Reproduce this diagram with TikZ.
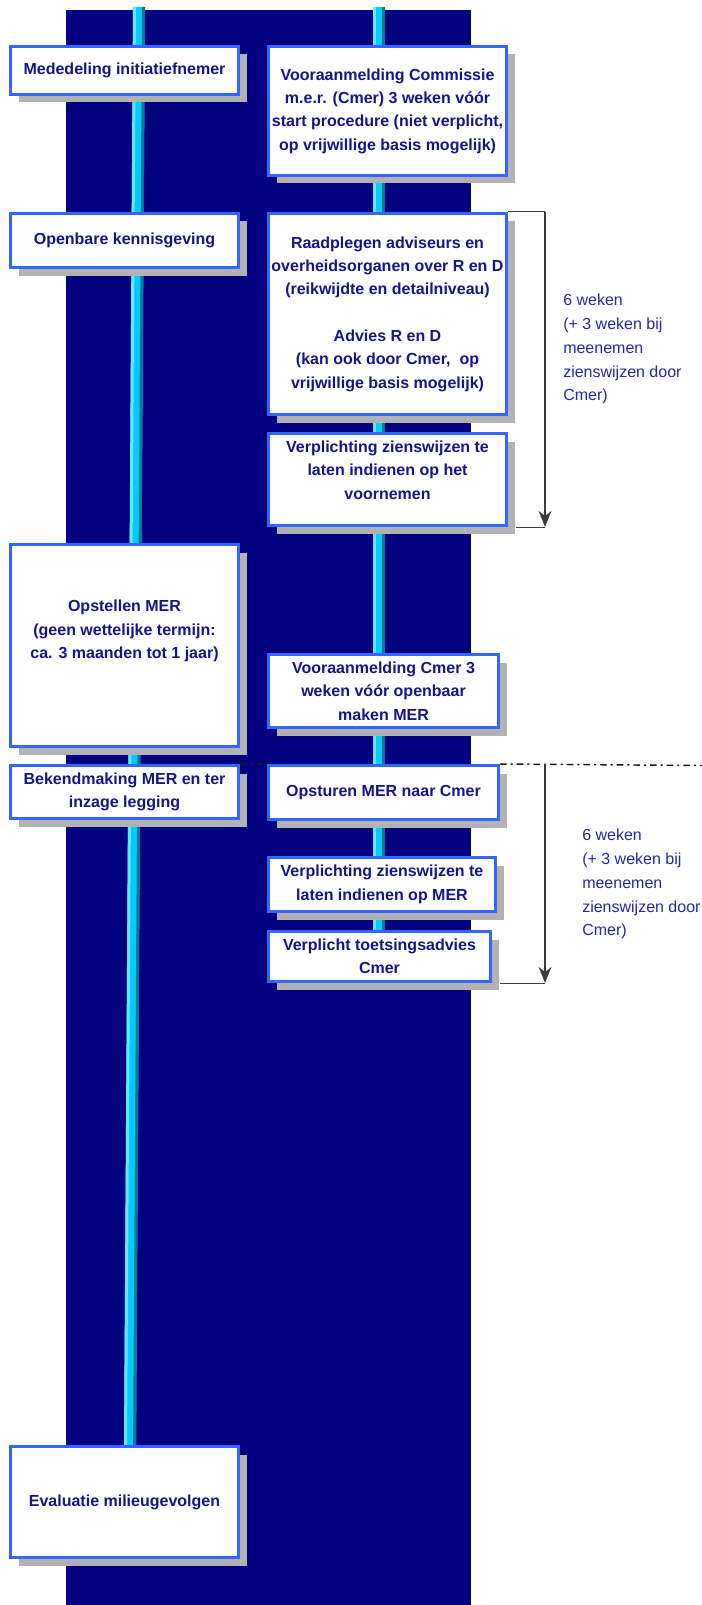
\documentclass[tikz,border=0pt]{standalone}
\usepackage{fontspec}
\setmainfont{Liberation Sans}
\usetikzlibrary{arrows.meta,shadows}

\definecolor{nachtblauw}{RGB}{0,0,128}
\definecolor{randblauw}{RGB}{51,102,255}
\definecolor{tekstblauw}{RGB}{20,20,140}
\definecolor{notitieblauw}{RGB}{38,38,168}
\definecolor{pijpblauw}{RGB}{0,204,255}
\definecolor{pijplicht}{RGB}{110,226,255}
\definecolor{pijpdonker}{RGB}{0,122,153}
\definecolor{lijngrijs}{RGB}{60,60,60}

\tikzset{
	vak/.style={draw=randblauw, line width=2.25pt, fill=white, inner sep=0pt, align=center,
		text=tekstblauw, font=\fontsize{12}{17.5}\selectfont\bfseries,
		general shadow={fill=black!30, shadow xshift=6pt, shadow yshift=-6pt}},
	vaktekst/.style={inner sep=0pt, align=center, text=tekstblauw, font=\fontsize{12}{17.5}\selectfont\bfseries},
	links/.style={vak, minimum width=171pt},
	rechts/.style={vak, minimum width=178.5pt},
	pijp/.style={draw=pijpblauw, line width=9pt,
		postaction={draw=pijplicht, line width=2.25pt, transform canvas={xshift=-3.4pt}},
		postaction={draw=pijpdonker, line width=2.25pt, transform canvas={xshift=3.4pt}}},
	dunlijn/.style={draw=lijngrijs, line width=0.75pt},
	weekpijl/.style={draw=lijngrijs, line width=1.5pt, -{Stealth[length=12pt, width=9.5pt]}},
	streepstip/.style={draw=black!90, line width=1.1pt, dash pattern=on 5pt off 3pt on 1.5pt off 3pt},
	notitie/.style={anchor=north west, inner sep=0pt, align=left, text=notitieblauw,
		font=\fontsize{12}{17.8}\selectfont}
}

\begin{document}
\begin{tikzpicture}[x=0.75pt, y=-0.75pt]
	\useasboundingbox (0,0) rectangle (702,1605);
	\fill[nachtblauw] (66,10) rectangle (471,1605);
	\draw[pijp] (139,7) -- (130,1450);
	\draw[pijp] (379,7) -- (379,935);

	\node[links, minimum height=36pt] (mededeling) at (124.5,70.5) {Mededeling initiatiefnemer};
	\node[rechts, minimum height=96.75pt] (vooraanmelding) at (387.5,111) {Vooraanmelding Commissie\\m.e.r. (Cmer) 3 weken vóór\\start procedure (niet verplicht,\\op vrijwillige basis mogelijk)};
	\node[links, minimum height=40.5pt] (kennisgeving) at (124.5,240.5) {Openbare kennisgeving};
	\node[rechts, minimum height=150.75pt] (raadplegen) at (387.5,314) {Raadplegen adviseurs en\\overheidsorganen over R en D\\(reikwijdte en detailniveau)\\[17.5pt]Advies R en D\\(kan ook door Cmer,~ op\\vrijwillige basis mogelijk)};
	\node[rechts, minimum height=69pt] (zienswijze) at (387.5,479.5) {};
	\node[vaktekst] (zienswijzetekst) at (387.5,470) {Verplichting zienswijzen te\\laten indienen op het\\voornemen};
	\node[links, minimum height=151.5pt] (opstellen) at (124.5,645.5) {};
	\node[vaktekst] (opstellentekst) at (124.5,631) {Opstellen MER\\(geen wettelijke termijn:\\ca. 3 maanden tot 1 jaar)};
	\node[vak, minimum width=172.5pt, minimum height=54.75pt] (melding) at (383.5,691) {Vooraanmelding Cmer 3\\weken vóór openbaar\\maken MER};
	\node[links, minimum height=39.75pt] (bekend) at (124.5,792) {Bekendmaking MER en ter\\inzage legging};
	\node[vak, minimum width=172.5pt, minimum height=40.5pt] (opsturen) at (383.5,792.5) {Opsturen MER naar Cmer};
	\node[vak, minimum width=170.25pt, minimum height=40.5pt] (zienswijzemer) at (382,884.5) {Verplichting zienswijzen te\\laten indienen op MER};
	\node[vak, minimum width=166.5pt, minimum height=37.5pt] (toetsing) at (379.5,956.5) {Verplicht toetsingsadvies\\Cmer};
	\node[links, minimum height=83.25pt] (evaluatie) at (124.5,1502) {Evaluatie milieugevolgen};

	\coordinate (rail) at (545,0);
	\coordinate (rand) at (702,765.5);
	\draw[dunlijn] (raadplegen.north east) -- (raadplegen.north east -| rail);
	\draw[weekpijl] (raadplegen.north east -| rail) -- (zienswijze.south east -| rail);
	\draw[dunlijn] ([xshift=6pt]zienswijze.south east) -- (zienswijze.south east -| rail);
	\node[notitie] (termijn) at (563,294) {6 weken\\(+ 3 weken bij\\meenemen\\zienswijzen door\\Cmer)};

	\draw[streepstip] (bekend.north east) -- (opsturen.north west);
	\draw[streepstip] (opsturen.north east) -- (rand);
	\draw[weekpijl] (opsturen.north east -| rail) -- (toetsing.south east -| rail);
	\draw[dunlijn] ([xshift=6pt]toetsing.south east) -- (toetsing.south east -| rail);
	\node[notitie] (termijnmer) at (582,829) {6 weken\\(+ 3 weken bij\\meenemen\\zienswijzen door\\Cmer)};
\end{tikzpicture}
\end{document}
